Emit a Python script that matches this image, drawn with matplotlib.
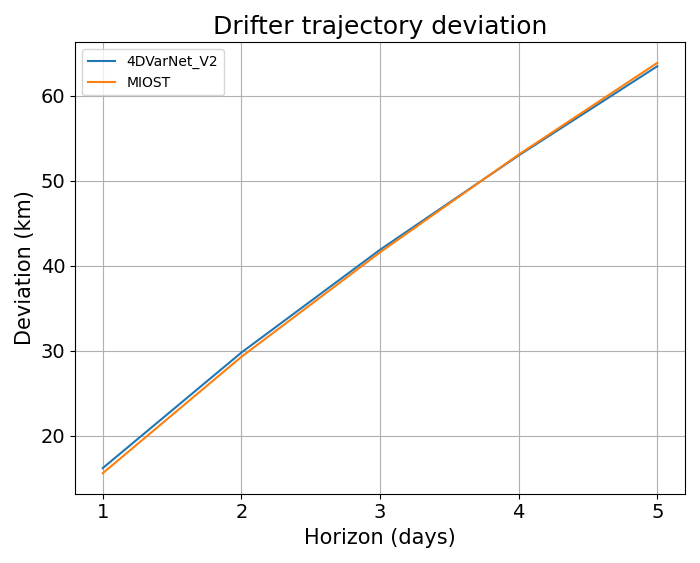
import matplotlib
matplotlib.use("Agg")
import matplotlib.pyplot as plt

# --- data ---
horizons = [1, 2, 3, 4, 5]
dev_4dvarnet = [16.2, 29.8, 41.9, 53.0, 63.5]
dev_miost = [15.6, 29.3, 41.6, 53.1, 63.9]

fig, ax = plt.subplots(figsize=(7, 5.63), dpi=100)
ax.plot(horizons, dev_4dvarnet, label="4DVarNet_V2")
ax.plot(horizons, dev_miost, label="MIOST")
ax.set_title("Drifter trajectory deviation", fontsize=18)
ax.set_xlabel("Horizon (days)", fontsize=15)
ax.set_ylabel("Deviation (km)", fontsize=15)
ax.set_xticks(horizons)
ax.tick_params(labelsize=14)
ax.grid(True)
ax.legend()
plt.tight_layout()
plt.savefig("out.png")
